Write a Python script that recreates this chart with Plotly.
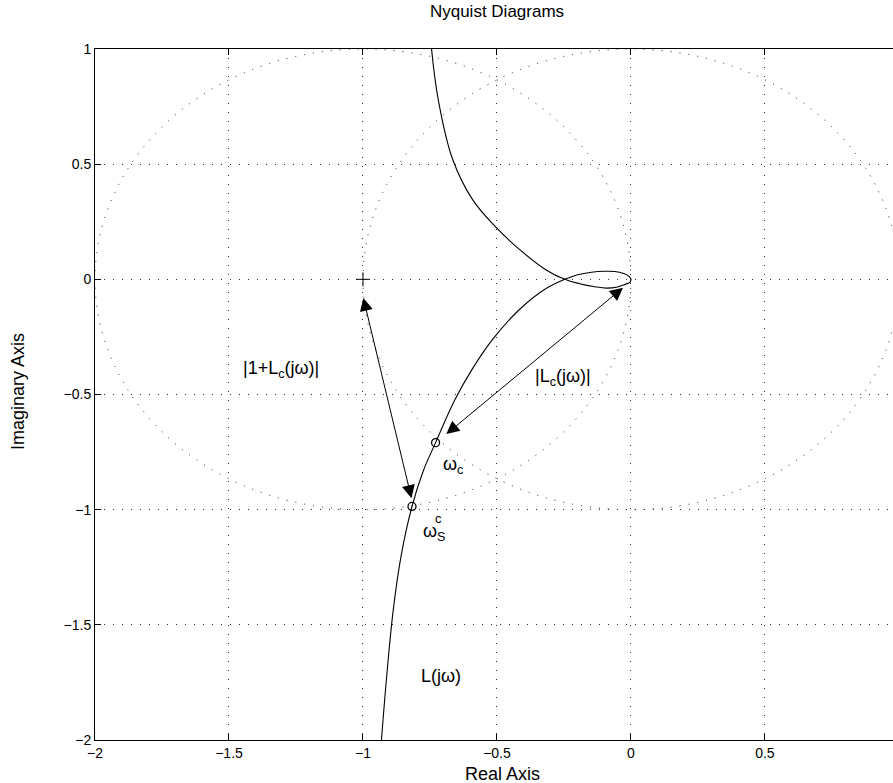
import plotly.graph_objects as go

# ---------------- data ----------------
# Nyquist curve, branch A (from bottom, through crossing, upper small loop to origin)
branch_a_x = [-0.931, -0.911, -0.887, -0.857, -0.817, -0.775, -0.729, -0.657, -0.594, -0.517,
              -0.417, -0.324, -0.247, -0.199, -0.147, -0.098, -0.061, -0.027, -0.005, 0.0]
branch_a_y = [-2.0, -1.718, -1.435, -1.196, -0.986, -0.832, -0.709, -0.523, -0.393, -0.262,
              -0.132, -0.045, 0.0, 0.020, 0.031, 0.035, 0.034, 0.025, 0.011, 0.0]
# Nyquist curve, branch B (from top, through crossing, lower small loop to origin)
branch_b_x = [-0.744, -0.719, -0.665, -0.591, -0.505, -0.415, -0.318,
              -0.247, -0.191, -0.135, -0.091, -0.050, -0.020, -0.004, 0.0]
branch_b_y = [1.0, 0.780, 0.520, 0.346, 0.228, 0.129, 0.042,
              0.0, -0.019, -0.032, -0.038, -0.033, -0.021, -0.013, 0.0]

# special points
crit_point = [-1.0, 0.0]
omega_c_point = [-0.729, -0.709]
omega_s_point = [-0.817, -0.986]

# reference circles: (center_x, center_y, radius)
circle_left = (-1.0, 0.0, 1.0)
circle_right = (0.0, 0.0, 1.0)

# arrows: (tail x, tail y, head x, head y)
arrow_s = (-1.0, -0.074, -0.819, -0.950)
arrow_c = (-0.024, -0.031, -0.689, -0.672)

# tick values / labels
x_ticks = [-2, -1.5, -1, -0.5, 0, 0.5, 1]
x_tick_labels = ["\u22122", "\u22121.5", "\u22121", "\u22120.5", "0", "0.5", "1"]
y_ticks = [-2, -1.5, -1, -0.5, 0, 0.5, 1]
y_tick_labels = ["\u22122", "\u22121.5", "\u22121", "\u22120.5", "0", "0.5", "1"]

x_range = [-2, 0.978]
y_range = [-2, 1]

FONT = "Liberation Sans, Arial, Helvetica, sans-serif"
DOT = "1px,8px"

fig = go.Figure()

for cx, cy, r in (circle_left, circle_right):
    fig.add_shape(type="circle", xref="x", yref="y",
                  x0=cx - r, x1=cx + r, y0=cy - r, y1=cy + r,
                  line=dict(color="#222", width=1, dash=DOT), layer="below")

for bx, by in ((branch_a_x, branch_a_y), (branch_b_x, branch_b_y)):
    fig.add_trace(go.Scatter(x=bx, y=by, mode="lines",
                             line=dict(color="black", width=1.1, shape="spline", smoothing=1.1),
                             showlegend=False, hoverinfo="skip"))

fig.add_trace(go.Scatter(x=[crit_point[0]], y=[crit_point[1]], mode="markers",
                         marker=dict(symbol="cross-thin", size=10, line=dict(color="black", width=1)),
                         showlegend=False))
fig.add_trace(go.Scatter(x=[omega_c_point[0], omega_s_point[0]],
                         y=[omega_c_point[1], omega_s_point[1]], mode="markers",
                         marker=dict(symbol="circle-open", size=8, color="black",
                                     line=dict(color="black", width=1.3)),
                         showlegend=False))

# arrows
for a in (arrow_s, arrow_c):
    fig.add_annotation(x=a[2], y=a[3], ax=a[0], ay=a[1],
                       xref="x", yref="y", axref="x", ayref="y", text="", showarrow=True,
                       arrowhead=2, startarrowhead=2, arrowside="end+start",
                       arrowsize=2.6, startarrowsize=2.6, arrowwidth=1, arrowcolor="black")

TXT = dict(family=FONT, size=18, color="black")
fig.add_annotation(x=-1.306, y=-0.393, xref="x", yref="y", text="|1+L<sub>c</sub>(j\u03c9)|",
                   showarrow=False, font=TXT)
fig.add_annotation(x=-0.255, y=-0.427, xref="x", yref="y", text="|L<sub>c</sub>(j\u03c9)|",
                   showarrow=False, font=TXT)
fig.add_annotation(x=-0.707, y=-1.722, xref="x", yref="y", text="L(j\u03c9)",
                   showarrow=False, font=TXT)
fig.add_annotation(x=-0.7075, y=-0.81, xref="x", yref="y", text="\u03c9<sub>c</sub>",
                   showarrow=False, font=TXT, xanchor="left")
fig.add_annotation(x=-0.782, y=-1.10, xref="x", yref="y", text="\u03c9<sub>S</sub>",
                   showarrow=False, font=TXT, xanchor="left")
fig.add_annotation(x=-0.717, y=-1.040, xref="x", yref="y", text="c",
                   showarrow=False, font=dict(family=FONT, size=13, color="black"))

# axis titles
fig.add_annotation(x=(502 - 95) / 798, y=(740 - 774) / 691, xref="paper", yref="paper",
                   text="Real Axis", showarrow=False, font=TXT, yanchor="middle")
fig.add_annotation(x=(18 - 95) / 798, y=(740 - 392) / 691, xref="paper", yref="paper",
                   text="Imaginary Axis", showarrow=False, font=TXT, textangle=-90,
                   xanchor="center", yanchor="middle")

axis_common = dict(showline=True, linecolor="black", linewidth=1, ticks="inside",
                   ticklen=6, tickcolor="black", showgrid=True, gridcolor="#333",
                   gridwidth=1, griddash=DOT, zeroline=False,
                   tickfont=dict(family=FONT, size=14, color="black"))

fig.update_xaxes(range=x_range, tickvals=x_ticks, ticktext=x_tick_labels,
                 mirror="ticks", **axis_common)
fig.update_yaxes(range=y_range, tickvals=y_ticks, ticktext=y_tick_labels,
                 mirror=False, **axis_common)

fig.update_layout(
    width=893, height=783,
    margin=dict(l=95, r=0, t=49, b=43),
    paper_bgcolor="white", plot_bgcolor="white",
    title=dict(text="Nyquist Diagrams", x=497 / 893, xref="container", xanchor="center",
               y=1 - 11 / 783, yref="container", yanchor="middle",
               font=dict(family=FONT, size=17, color="black")),
    font=dict(family=FONT),
)

fig.write_html("out.html", config={"displayModeBar": False},
               post_script="document.body.style.margin='0';")
